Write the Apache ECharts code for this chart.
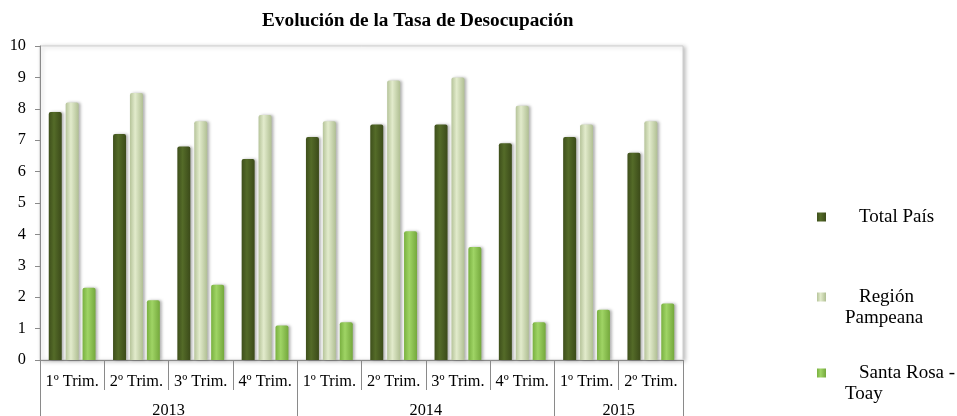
<!DOCTYPE html>
<html>
<head>
<meta charset="utf-8">
<script src="https://cdn.jsdelivr.net/npm/echarts@6/dist/echarts.min.js"></script>
<style>
html,body{margin:0;padding:0;background:#fff;}
#chart{width:957px;height:416px;}
</style>
</head>
<body>
<div id="chart"></div>
<script>
const titleText = 'Evolución de la Tasa de Desocupación';
const categories = ['1º Trim.','2º Trim.','3º Trim.','4º Trim.','1º Trim.','2º Trim.','3º Trim.','4º Trim.','1º Trim.','2º Trim.'];
const years = ['2013','2014','2015'];
const yearSpans = [4,4,2];
const seriesNames = ['Total País','Región\nPampeana','Santa Rosa -\nToay'];
const totalPais = [7.9,7.2,6.8,6.4,7.1,7.5,7.5,6.9,7.1,6.6];
const regionPampeana = [8.2,8.5,7.6,7.8,7.6,8.9,9.0,8.1,7.5,7.6];
const santaRosa = [2.3,1.9,2.4,1.1,1.2,4.1,3.6,1.2,1.6,1.8];

const FONT = '"Liberation Serif", "Times New Roman", serif';
const AXIS_GRAY = '#8a8a8a';

// year axis: half-category positions (boundaryGap false)
const nHalf = categories.length * 2 + 1;
const yearAxisData = new Array(nHalf).fill('');
const yearTicks = new Set();
let st = 0;
years.forEach((y, i) => {
  yearTicks.add(st * 2);
  yearAxisData[st * 2 + yearSpans[i]] = y;
  st += yearSpans[i];
});
yearTicks.add(st * 2);

function grad(c0, c1, c2) {
  return new echarts.graphic.LinearGradient(0, 0, 1, 0, [
    {offset: 0, color: c0}, {offset: 0.4, color: c1}, {offset: 1, color: c2}
  ]);
}
const colors = [
  grad('#3e4f1b', '#546b28', '#3b4a19'),
  grad('#b6c49a', '#e2ebcc', '#b0bf93'),
  grad('#79b040', '#9fd465', '#74a83c')
];
const seriesData = [totalPais, regionPampeana, santaRosa];

const chart = echarts.init(document.getElementById('chart'), null, {renderer: 'canvas'});

const legendTops = [207.5, 287.5, 363.5];
const legends = seriesNames.map((name, i) => {
  const lines = name.split('\n');
  const multi = lines.length > 1;
  return {
    data: [{name: name, textStyle: {padding: multi ? [21, 0, 0, 0] : 0}}],
    left: 817,
    top: legendTops[i],
    padding: 0,
    orient: 'vertical',
    itemWidth: 37,
    itemHeight: 9,
    icon: 'path://M0,0 L10,0 L10,10 L0,10 Z',
    selectedMode: false,
    formatter: function (n) {
      const ls = n.split('\n');
      return ls.map((l, k) => k === 0 ? '{f|' + l + '}' : '{s|' + l + '}').join('\n');
    },
    textStyle: {
      fontFamily: FONT, fontSize: 19, color: '#000',
      rich: {
        f: {fontFamily: FONT, fontSize: 19, color: '#000', lineHeight: 21, padding: [0, 0, 0, 14]},
        s: {fontFamily: FONT, fontSize: 19, color: '#000', lineHeight: 21}
      }
    }
  };
});

const option = {
  animation: false,
  backgroundColor: '#fff',
  title: {
    text: titleText,
    left: 262,
    top: 12,
    padding: 0,
    textStyle: {fontFamily: FONT, fontSize: 19.3, fontWeight: 'bold', color: '#000'}
  },
  legend: legends,
  grid: {
    left: 40, right: 274, top: 46, bottom: 56,
    containLabel: false,
    outerBoundsMode: 'none',
    show: true,
    backgroundColor: '#fff',
    borderColor: '#cfcfcf',
    borderWidth: 1,
    shadowColor: 'rgba(0,0,0,0.25)',
    shadowBlur: 4,
    shadowOffsetX: 2,
    shadowOffsetY: 1
  },
  xAxis: [
    {
      type: 'category',
      data: categories,
      position: 'bottom',
      axisLine: {show: true, lineStyle: {color: AXIS_GRAY, width: 1}},
      axisTick: {show: true, interval: 0, length: 30, lineStyle: {color: AXIS_GRAY}},
      axisLabel: {interval: 0, margin: 14, fontFamily: FONT, fontSize: 16.3, color: '#000'},
      splitLine: {show: false}
    },
    {
      type: 'category',
      data: yearAxisData,
      boundaryGap: false,
      position: 'bottom',
      axisLine: {show: false},
      axisTick: {show: true, interval: function (idx) { return yearTicks.has(idx); }, length: 57, lineStyle: {color: AXIS_GRAY}},
      axisLabel: {interval: 0, margin: 43, fontFamily: FONT, fontSize: 16.3, color: '#000'},
      splitLine: {show: false}
    }
  ],
  yAxis: {
    type: 'value',
    min: 0, max: 10, interval: 1,
    axisLine: {show: true, lineStyle: {color: AXIS_GRAY, width: 1}},
    axisTick: {show: true, length: 5, lineStyle: {color: AXIS_GRAY}},
    axisLabel: {margin: 14, fontFamily: FONT, fontSize: 16.3, color: '#000'},
    splitLine: {show: false}
  },
  series: seriesNames.map((name, i) => ({
    name: name,
    type: 'bar',
    xAxisIndex: 0,
    data: seriesData[i],
    barWidth: 13,
    barGap: '30%',
    itemStyle: {
      color: colors[i],
      borderRadius: [2, 2, 0, 0],
      shadowColor: 'rgba(0,0,0,0.3)',
      shadowBlur: 3,
      shadowOffsetX: 2,
      shadowOffsetY: 0
    }
  }))
};
chart.setOption(option);
</script>
</body>
</html>
